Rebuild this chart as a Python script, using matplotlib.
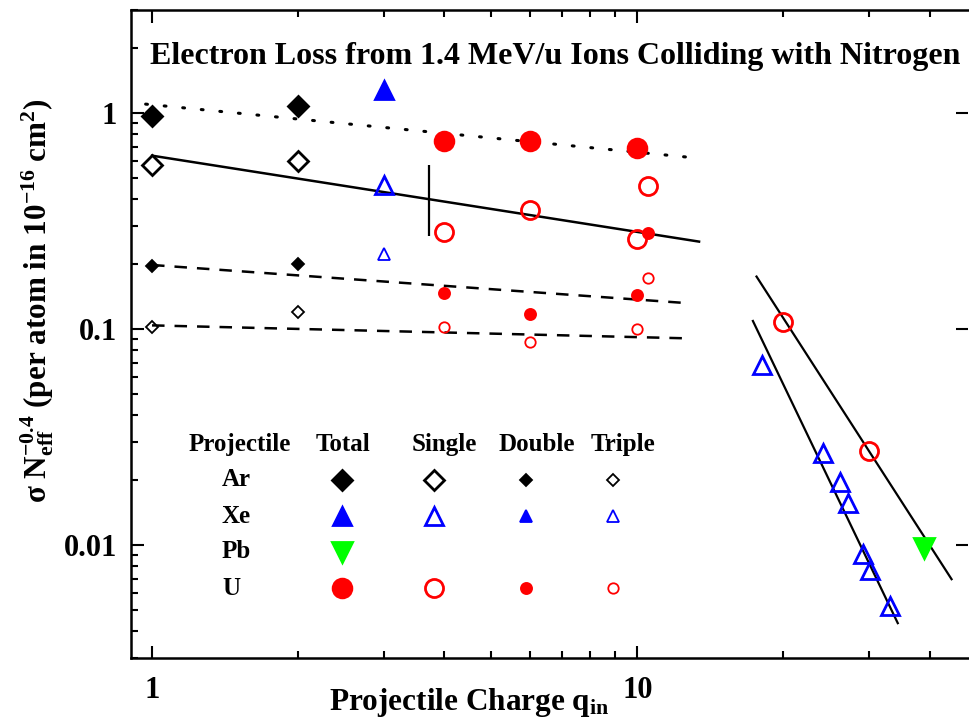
import matplotlib
matplotlib.use('Agg')
import matplotlib.pyplot as plt
from matplotlib.ticker import FuncFormatter, NullFormatter

plt.rcParams['font.family'] = ['Liberation Serif', 'DejaVu Serif']
plt.rcParams['font.weight'] = 'bold'
plt.rcParams['axes.labelweight'] = 'bold'
plt.rcParams['mathtext.default'] = 'regular'

# ---- data ----
ar_q = [1, 2]
ar_total = [0.965, 1.08]
ar_single = [0.577, 0.597]
ar_double = [0.196, 0.200]
ar_triple = [0.1025, 0.1195]

xe_q = [3]
xe_total = [1.28]
xe_single = [0.466]
xe_triple = [0.223]

xe_q_high = [18.1, 24.1, 26.1, 27.1, 29.1, 30.1, 33.1]
xe_single_high = [0.068, 0.0266, 0.0195, 0.0156, 0.0091, 0.0077, 0.0052]

u_q = [4, 6, 10]
u_total = [0.74, 0.74, 0.69]
u_single = [0.281, 0.357, 0.261]
u_double = [0.147, 0.117, 0.144]
u_triple = [0.1025, 0.0867, 0.100]

u2_q = [10.5]
u2_single = [0.461]
u2_double = [0.278]
u2_triple = [0.172]

u_q_high = [20, 30]
u_single_high = [0.108, 0.0274]

pb_q = [39]
pb_total = [0.0097]

# fit lines (end points)
fit_total_q, fit_total = [0.97, 12.6], [1.10, 0.626]
fit_single_q, fit_single = [1.0, 13.4], [0.635, 0.254]
fit_double_q, fit_double = [1.0, 12.8], [0.198, 0.1316]
fit_triple_q, fit_triple = [1.0, 12.6], [0.104, 0.0906]
fit_u_high_q, fit_u_high = [17.6, 44.4], [0.175, 0.00695]
fit_xe_high_q, fit_xe_high = [17.3, 34.4], [0.109, 0.00435]
bar_q, bar_lo, bar_hi = 3.72, 0.271, 0.577

title = 'Electron Loss from 1.4 MeV/u Ions Colliding with Nitrogen'
projectiles = ['Ar', 'Xe', 'Pb', 'U']
kinds = ['Total', 'Single', 'Double', 'Triple']

green = (0, 1, 0)
shapes = {'Ar': ('D', 'black'), 'Xe': ('^', 'blue'), 'Pb': ('v', green), 'U': ('o', 'red')}
sizes = {'D': [10, 10, 6, 6], '^': [13, 13.5, 8.5, 8.5], 'v': [15, 15, 9, 9], 'o': [13.5, 13, 8, 7.5]}


def style(proj, kind):
    m, c = shapes[proj]
    i = kinds.index(kind)
    filled = kind in ('Total', 'Double')
    return dict(marker=m, ms=sizes[m][i], color=c, mfc=c if filled else 'none',
                mew=(2.0 if i < 2 else 1.3), linestyle='none', zorder=3)


fig = plt.figure(figsize=(9.69, 7.21), dpi=100)
ax = fig.add_axes([131 / 969, 1 - 658 / 721, 837 / 969, 648 / 721])
ax.set_xscale('log')
ax.set_yscale('log')

# lines
ax.plot(fit_total_q, fit_total, color='black', lw=2.2, linestyle=(0, (0.6, 5.5)), dash_capstyle='round')
ax.plot(fit_single_q, fit_single, color='black', lw=1.8)
ax.plot(fit_double_q, fit_double, color='black', lw=1.8, linestyle=(0, (5, 4)))
ax.plot(fit_triple_q, fit_triple, color='black', lw=1.8, linestyle=(0, (5, 4)))
ax.plot(fit_u_high_q, fit_u_high, color='black', lw=1.6)
ax.plot(fit_xe_high_q, fit_xe_high, color='black', lw=1.6)
ax.vlines(bar_q, bar_lo, bar_hi, color='black', lw=1.6)

# points
ax.plot(ar_q, ar_total, **style('Ar', 'Total'))
ax.plot(ar_q, ar_single, **style('Ar', 'Single'))
ax.plot(ar_q, ar_double, **style('Ar', 'Double'))
ax.plot(ar_q, ar_triple, **style('Ar', 'Triple'))
ax.plot(xe_q, xe_total, **style('Xe', 'Total'))
ax.plot(xe_q, xe_single, **style('Xe', 'Single'))
ax.plot(xe_q, xe_triple, **style('Xe', 'Triple'))
ax.plot(xe_q_high, xe_single_high, **style('Xe', 'Single'))
ax.plot(u_q, u_total, **style('U', 'Total'))
ax.plot(u_q, u_single, **style('U', 'Single'))
ax.plot(u_q, u_double, **style('U', 'Double'))
ax.plot(u_q, u_triple, **style('U', 'Triple'))
ax.plot(u2_q, u2_double, **style('U', 'Double'))
ax.plot(u2_q, u2_single, **style('U', 'Single'))
ax.plot(u2_q, u2_triple, **style('U', 'Triple'))
ax.plot(u_q_high, u_single_high, **style('U', 'Single'))
ax.plot(pb_q, pb_total, **style('Pb', 'Total'))

# table-like legend
head_y = 0.329
row_y = [0.275, 0.219, 0.164, 0.108]
col_x = [0.252, 0.362, 0.472, 0.576]
head_x = [0.130, 0.253, 0.374, 0.485, 0.588]
for hx, h in zip(head_x, ['Projectile'] + kinds):
    ax.text(hx, head_y, h, transform=ax.transAxes, ha='center', va='center', fontsize=18)
for ry, p in zip(row_y, projectiles):
    ax.text(0.1087, ry, p, transform=ax.transAxes, ha='left', va='center', fontsize=18)
    for cx, k in zip(col_x, kinds):
        if p == 'Pb' and k != 'Total':
            continue
        ax.plot([cx], [ry], transform=ax.transAxes, clip_on=False, **style(p, k))

ax.text(0.5066, 0.9275, title, transform=ax.transAxes, ha='center', va='center', fontsize=23)

ax.set_xlim(0.905, 48)
ax.set_ylim(0.003, 3.0)
fmt = FuncFormatter(lambda v, pos: '%g' % v)
ax.xaxis.set_major_formatter(fmt)
ax.yaxis.set_major_formatter(fmt)
ax.xaxis.set_minor_formatter(NullFormatter())
ax.yaxis.set_minor_formatter(NullFormatter())
ax.tick_params(which='both', direction='in', top=True, right=True, width=1.5, labelsize=22)
ax.tick_params(which='major', length=9)
ax.tick_params(which='minor', length=5)
ax.tick_params(axis='y', which='minor', right=False)
ax.tick_params(axis='x', pad=13)
ax.tick_params(axis='y', pad=10)
for s in ax.spines.values():
    s.set_linewidth(1.8)
ax.spines['right'].set_visible(False)

ax.set_xlabel('Projectile Charge q$_{in}$', fontsize=22.5, fontweight='bold')
ax.xaxis.set_label_coords(0.404, -0.043)
ax.set_ylabel('σ N$_{eff}^{-0.4}$ (per atom in 10$^{-16}$ cm$^{2}$)', fontsize=22.4, fontweight='bold')
ax.yaxis.set_label_coords(-0.09, 0.551)

fig.savefig('out.png', dpi=100)
